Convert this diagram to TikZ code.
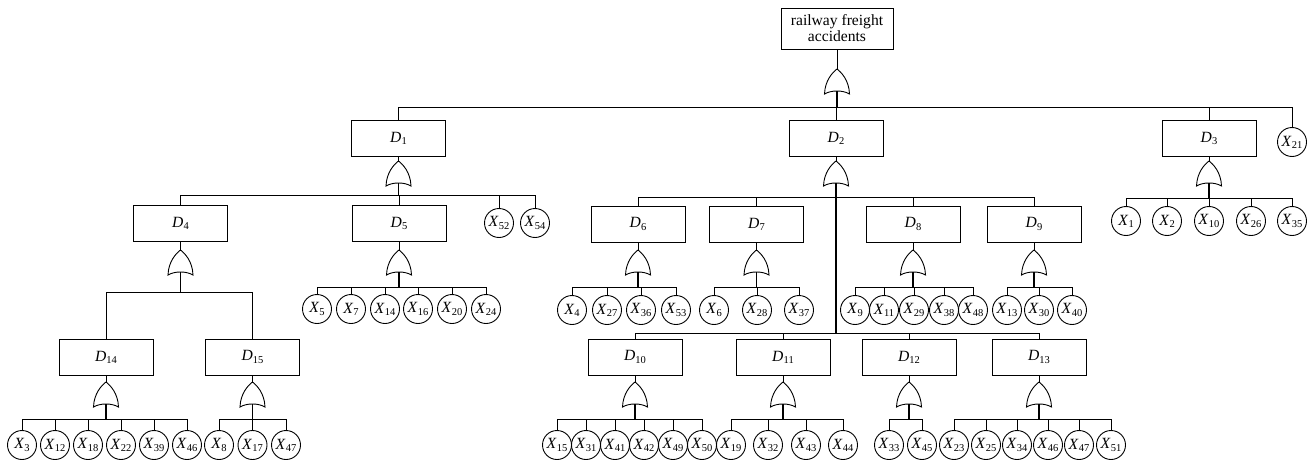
\documentclass[tikz,border=0pt]{standalone}
\usepackage{fontspec}
\setmainfont{Liberation Serif}
\newcommand\lbl[2]{\textit{#1}\kern0.2pt\raisebox{-0.3ex}{\fontsize{10.5}{10.5}\selectfont #2}}
\newcommand\mkgate[4]{%
  \coordinate (#1t) at (#2,#3);
  \coordinate (#1b) at (#2,{#3+22});
  \coordinate (#1u) at (#2,#4);
  \pic at (#1t) {orgate};
  \draw[stem] (#1b) -- (#1u);}
\tikzset{
  orgate/.pic={\draw[line width=0.9pt] (0,0) .. controls (-4,3) and (-12,11) .. (-12.5,25)
     .. controls (-6,21) and (6,21) .. (12.5,25) .. controls (12,11) and (4,3) .. (0,0);},
  stem/.style={line width=1.2pt},
  dbox/.style={draw, line width=0.9pt, minimum width=94pt, minimum height=36pt, inner sep=0pt},
  xc/.style={draw, circle, line width=0.9pt, minimum size=29pt, inner sep=0pt},
  every node/.style={font=\fontsize{15.6}{18}\selectfont},
  every path/.style={line width=0.8pt}
}
\begin{document}
\begin{tikzpicture}[x=1pt,y=-1pt]
\useasboundingbox (0,0) rectangle (1311,460);
% top
\node[draw, line width=0.9pt, minimum width=112pt, minimum height=41pt, align=center, inner sep=1pt] (T) at (837,28.5) {railway freight\\[-2pt]accidents};
\mkgate{g0}{837}{69}{107}
\draw (T.south) -- (g0t);
% level 1
\node[dbox] (D1) at (398.5,138.5) {\lbl{D}{1}};
\node[dbox] (D2) at (836,138.5) {\lbl{D}{2}};
\node[dbox] (D3) at (1209,138.5) {\lbl{D}{3}};
\node[xc] (X21) at (1292,142) {\lbl{X}{21}};
\draw (D1.north |- g0u) -- (X21.north |- g0u);
\foreach \n in {D1,D2,D3,X21} \draw (\n.north) -- (\n.north |- g0u);
% D1
\mkgate{g1}{398.5}{161}{195}
\draw (D1.south) -- (g1t);
\node[dbox] (D4) at (180.5,223.5) {\lbl{D}{4}};
\node[dbox] (D5) at (399,223.5) {\lbl{D}{5}};
\node[xc] (X52) at (499,223) {\lbl{X}{52}};
\node[xc] (X54) at (535,223) {\lbl{X}{54}};
\draw (D4.north |- g1u) -- (X54.north |- g1u);
\foreach \n in {D4,D5,X52,X54} \draw (\n.north) -- (\n.north |- g1u);
% D2
\mkgate{g2}{836}{161}{197}
\draw (D2.south) -- (g2t);
\node[dbox] (D6) at (638,224) {\lbl{D}{6}};
\node[dbox] (D7) at (756.5,224) {\lbl{D}{7}};
\node[dbox] (D8) at (913,224) {\lbl{D}{8}};
\node[dbox] (D9) at (1034,224) {\lbl{D}{9}};
\draw (D6.north |- g2u) -- (D9.north |- g2u);
\foreach \n in {D6,D7,D8,D9} \draw (\n.north) -- (\n.north |- g2u);
\coordinate (g2low) at (836,333);
\draw[stem] (g2u) -- (g2low);
\node[dbox] (D10) at (635,357) {\lbl{D}{10}};
\node[dbox] (D11) at (783,357) {\lbl{D}{11}};
\node[dbox] (D12) at (909,357) {\lbl{D}{12}};
\node[dbox] (D13) at (1039,357) {\lbl{D}{13}};
\draw (D10.north |- g2low) -- (D13.north |- g2low);
\foreach \n in {D10,D11,D12,D13} \draw (\n.north) -- (\n.north |- g2low);
% D3
\mkgate{g3}{1209}{161}{198}
\draw (D3.south) -- (g3t);
\foreach \n/\x in {1/1126,2/1167,10/1209,26/1251,35/1292}
  \node[xc] (X\n) at (\x,221) {\lbl{X}{\n}};
\draw (X1.north |- g3u) -- (X35.north |- g3u);
\foreach \n in {X1,X2,X10,X26,X35} \draw (\n.north) -- (\n.north |- g3u);
% D4
\mkgate{g4}{180.5}{250}{292}
\draw (D4.south) -- (g4t);
\node[dbox] (D14) at (106,357) {\lbl{D}{14}};
\node[dbox] (D15) at (252.5,357) {\lbl{D}{15}};
\draw (D14.north |- g4u) -- (D15.north |- g4u);
\foreach \n in {D14,D15} \draw (\n.north) -- (\n.north |- g4u);
% D5
\mkgate{g5}{399}{250}{287}
\draw (D5.south) -- (g5t);
\foreach \n/\x in {5/317,7/351,14/385,16/418,20/452,24/486}
  \node[xc] (X\n) at (\x,309) {\lbl{X}{\n}};
\draw (X5.north |- g5u) -- (X24.north |- g5u);
\foreach \n in {X5,X7,X14,X16,X20,X24} \draw (\n.north) -- (\n.north |- g5u);
% D6
\mkgate{g6}{638}{250}{287}
\draw (D6.south) -- (g6t);
\foreach \n/\x in {4/572,27/607,36/641,53/676}
  \node[xc] (X\n) at (\x,310) {\lbl{X}{\n}};
\draw (X4.north |- g6u) -- (X53.north |- g6u);
\foreach \n in {X4,X27,X36,X53} \draw (\n.north) -- (\n.north |- g6u);
% D7
\mkgate{g7}{756.5}{250}{287}
\draw (D7.south) -- (g7t);
\foreach \n/\x in {6/714,28/757,37/799}
  \node[xc] (X\n) at (\x,310) {\lbl{X}{\n}};
\draw (X6.north |- g7u) -- (X37.north |- g7u);
\foreach \n in {X6,X28,X37} \draw (\n.north) -- (\n.north |- g7u);
% D8
\mkgate{g8}{913}{250}{287}
\draw (D8.south) -- (g8t);
\foreach \n/\x in {9/855,11/884,29/914,38/944,48/973}
  \node[xc] (X\n) at (\x,310) {\lbl{X}{\n}};
\draw (X9.north |- g8u) -- (X48.north |- g8u);
\foreach \n in {X9,X11,X29,X38,X48} \draw (\n.north) -- (\n.north |- g8u);
% D9
\mkgate{g9}{1034}{250}{287}
\draw (D9.south) -- (g9t);
\foreach \n/\x in {13/1007,30/1039,40/1072}
  \node[xc] (X\n) at (\x,310) {\lbl{X}{\n}};
\draw (X13.north |- g9u) -- (X40.north |- g9u);
\foreach \n in {X13,X30,X40} \draw (\n.north) -- (\n.north |- g9u);
% D14
\mkgate{g14}{106}{382}{419}
\draw (D14.south) -- (g14t);
\foreach \n/\x in {3/22,12/55,18/88,22/121,39/154,46/187}
  \node[xc] (X\n) at (\x,445) {\lbl{X}{\n}};
\draw (X3.north |- g14u) -- (X46.north |- g14u);
\foreach \n in {X3,X12,X18,X22,X39,X46} \draw (\n.north) -- (\n.north |- g14u);
% D15
\mkgate{g15}{252.5}{382}{419}
\draw (D15.south) -- (g15t);
\foreach \n/\x in {8/219,17/252.5,47/286}
  \node[xc] (Xa\n) at (\x,445) {\lbl{X}{\n}};
\draw (Xa8.north |- g15u) -- (Xa47.north |- g15u);
\foreach \n in {Xa8,Xa17,Xa47} \draw (\n.north) -- (\n.north |- g15u);
% D10
\mkgate{g10}{635}{382}{419}
\draw (D10.south) -- (g10t);
\foreach \n/\x in {15/557,31/586,41/615,42/644,49/673,50/702}
  \node[xc] (X\n) at (\x,445) {\lbl{X}{\n}};
\draw (X15.north |- g10u) -- (X50.north |- g10u);
\foreach \n in {X15,X31,X41,X42,X49,X50} \draw (\n.north) -- (\n.north |- g10u);
% D11
\mkgate{g11}{783}{382}{419}
\draw (D11.south) -- (g11t);
\foreach \n/\x in {19/731,32/768,43/806,44/843}
  \node[xc] (X\n) at (\x,445) {\lbl{X}{\n}};
\draw (X19.north |- g11u) -- (X44.north |- g11u);
\foreach \n in {X19,X32,X43,X44} \draw (\n.north) -- (\n.north |- g11u);
% D12
\mkgate{g12}{909}{382}{419}
\draw (D12.south) -- (g12t);
\foreach \n/\x in {33/889,45/922}
  \node[xc] (X\n) at (\x,445) {\lbl{X}{\n}};
\draw (X33.north |- g12u) -- (X45.north |- g12u);
\foreach \n in {X33,X45} \draw (\n.north) -- (\n.north |- g12u);
% D13
\mkgate{g13}{1039}{382}{419}
\draw (D13.south) -- (g13t);
\foreach \n/\x in {23/954,25/986,34/1017,46/1048,47/1079,51/1111}
  \node[xc] (Xb\n) at (\x,445) {\lbl{X}{\n}};
\draw (Xb23.north |- g13u) -- (Xb51.north |- g13u);
\foreach \n in {Xb23,Xb25,Xb34,Xb46,Xb47,Xb51} \draw (\n.north) -- (\n.north |- g13u);
\end{tikzpicture}
\end{document}
